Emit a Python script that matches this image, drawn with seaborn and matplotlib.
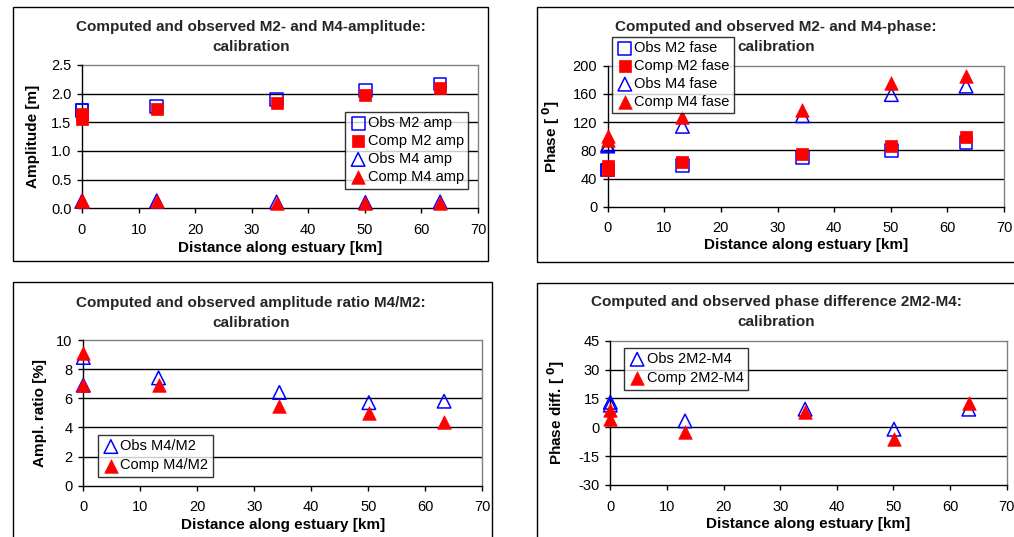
import numpy as np
import pandas as pd
import matplotlib
matplotlib.use("Agg")
import matplotlib.pyplot as plt
import seaborn as sns
from matplotlib.patches import Rectangle

sns.set_theme(style="white")
plt.rcParams['font.family'] = ['Liberation Sans', 'DejaVu Sans']

# ---------------- data ----------------
dist = [0, 0, 13.2, 34.4, 50.1, 63.3]

obs_m2_amp = [1.70, 1.70, 1.78, 1.90, 2.05, 2.17]
comp_m2_amp = [1.64, 1.55, 1.73, 1.83, 1.97, 2.10]
obs_m4_amp = [0.12, 0.12, 0.13, 0.11, 0.10, 0.11]
comp_m4_amp = [0.14, 0.12, 0.13, 0.10, 0.09, 0.09]

obs_m2_phase = [52, 52, 59, 70, 80, 91]
comp_m2_phase = [58, 52, 63, 75, 86, 99]
obs_m4_phase = [86, 88, 114, 129, 159, 171]
comp_m4_phase = [100, 95, 127, 137, 176, 185]

obs_ratio = [8.8, 6.9, 7.4, 6.4, 5.7, 5.8]
comp_ratio = [9.1, 6.9, 6.9, 5.5, 5.0, 4.4]

obs_pdiff = [13, 11.5, 3.3, 9.4, -1.0, 9.4]
comp_pdiff = [9, 4.3, -2.3, 7.8, -6.0, 12.8]

x_ticks = [0, 10, 20, 30, 40, 50, 60, 70]
amp_ticks = [0.0, 0.5, 1.0, 1.5, 2.0, 2.5]
phase_ticks = [0, 40, 80, 120, 160, 200]
ratio_ticks = [0, 2, 4, 6, 8, 10]
pdiff_ticks = [-30, -15, 0, 15, 30, 45]

title_lines = [("Computed and observed M2- and M4-amplitude:", "calibration"),
               ("Computed and observed M2- and M4-phase:", "calibration"),
               ("Computed and observed amplitude ratio M4/M2:", "calibration"),
               ("Computed and observed phase difference 2M2-M4:", "calibration")]
xlabel = "Distance along estuary [km]"

W, H = 1014, 537
fig = plt.figure(figsize=(W / 100, H / 100), dpi=100)
fig.patch.set_facecolor("white")

BLUE = "#0000FF"
RED = "#FF0000"
FS = 10.5
TFS = 11


def px_axes(l, r, t, b):
    return fig.add_axes([l / W, 1 - b / H, (r - l) / W, (b - t) / H])


def frame(l, t, r, b):
    fig.patches.append(Rectangle((l / W, 1 - b / H), (r - l) / W, (b - t) / H,
                                 transform=fig.transFigure, fill=False,
                                 edgecolor="black", linewidth=1.0))


def style(ax, yticks, yfmt, ylabel, ylab_x):
    ax.set_xlim(0, 70)
    ax.set_ylim(yticks[0], yticks[-1])
    ax.set_xticks(x_ticks)
    ax.set_yticks(yticks)
    ax.set_yticklabels([yfmt.format(v) for v in yticks])
    ax.tick_params(axis="both", which="major", direction="out", length=3.6,
                   width=1, color="black", labelsize=FS, labelcolor="black",
                   left=True, bottom=True)
    ax.tick_params(axis="x", pad=7)
    ax.tick_params(axis="y", pad=4)
    for v in yticks[1:-1]:
        ax.axhline(v, color="black", linewidth=1.0, zorder=1)
    for s in ["top", "right"]:
        ax.spines[s].set_color("#808080")
        ax.spines[s].set_linewidth(1.0)
    for s in ["left", "bottom"]:
        ax.spines[s].set_color("black")
        ax.spines[s].set_linewidth(1.0)
        ax.spines[s].set_zorder(3)
    ax.set_facecolor("white")
    ax.set_xlabel(xlabel, fontsize=TFS, fontweight="bold", color="black")
    ax.xaxis.set_label_coords(0.5, -0.225)
    ax.set_ylabel(ylabel, fontsize=TFS, fontweight="bold", color="black")
    ax.yaxis.set_label_coords(ylab_x, 0.5)


def pts(ax, y, marker, filled, label):
    df = pd.DataFrame({"x": dist, "y": y})
    size = 85 if marker == "s" else 95
    if filled:
        sns.scatterplot(data=df, x="x", y="y", ax=ax, marker=marker, s=size,
                        color=RED, edgecolor=RED, linewidth=0.5, label=label,
                        zorder=5, clip_on=False)
    else:
        sns.scatterplot(data=df, x="x", y="y", ax=ax, marker=marker, s=size,
                        facecolor="none", edgecolor=BLUE, linewidth=1.1,
                        label=label, zorder=4, clip_on=False)


def legend(ax, l, t, spacing):
    leg = ax.legend(loc="upper left", bbox_to_anchor=(l / W, 1 - t / H),
                    bbox_transform=fig.transFigure, frameon=True,
                    fancybox=False, edgecolor="black", fontsize=FS,
                    handletextpad=0.05, borderpad=0.3, labelspacing=spacing,
                    handlelength=1.2, borderaxespad=0)
    leg.get_frame().set_linewidth(1.0)
    for t_ in leg.get_texts():
        t_.set_color("black")


def title(x, y, lines):
    fig.text(x / W, 1 - y / H, lines[0], ha="center", va="center",
             fontsize=TFS, fontweight="bold")
    fig.text(x / W, 1 - (y + 20) / H, lines[1], ha="center", va="center",
             fontsize=TFS, fontweight="bold")


# ---- panel 1: amplitude ----
frame(12.7, 7.3, 488, 261)
ax1 = px_axes(82, 478, 65, 208.3)
pts(ax1, obs_m2_amp, "s", False, "Obs M2 amp")
pts(ax1, comp_m2_amp, "s", True, "Comp M2 amp")
pts(ax1, obs_m4_amp, "^", False, "Obs M4 amp")
pts(ax1, comp_m4_amp, "^", True, "Comp M4 amp")
style(ax1, amp_ticks, "{:.1f}", "Amplitude [m]", -0.106)
legend(ax1, 345, 111.7, 0.28)
title(251, 27, title_lines[0])

# ---- panel 2: phase ----
frame(536.7, 7, 1020, 261.7)
ax2 = px_axes(607.7, 1004, 65.7, 206.7)
pts(ax2, obs_m2_phase, "s", False, "Obs M2 fase")
pts(ax2, comp_m2_phase, "s", True, "Comp M2 fase")
pts(ax2, obs_m4_phase, "^", False, "Obs M4 fase")
pts(ax2, comp_m4_phase, "^", True, "Comp M4 fase")
style(ax2, phase_ticks, "{:d}", r"Phase [ $^\mathbf{0}$]", -0.115)
title(776, 27, title_lines[1])
legend(ax2, 611.7, 37, 0.26)

# ---- panel 3: ratio ----
frame(12.7, 282.3, 491.7, 545)
ax3 = px_axes(83.3, 482.3, 340, 485.7)
pts(ax3, obs_ratio, "^", False, "Obs M4/M2")
pts(ax3, comp_ratio, "^", True, "Comp M4/M2")
style(ax3, ratio_ticks, "{:d}", "Ampl. ratio [%]", -0.091)
legend(ax3, 97.7, 435, 0.35)
title(251, 303, title_lines[2])

# ---- panel 4: phase difference ----
frame(536.7, 282.7, 1020, 545)
ax4 = px_axes(610.3, 1006.7, 340.7, 485)
pts(ax4, obs_pdiff, "^", False, "Obs 2M2-M4")
pts(ax4, comp_pdiff, "^", True, "Comp 2M2-M4")
style(ax4, pdiff_ticks, "{:d}", r"Phase diff. [ $^\mathbf{0}$]", -0.109)
legend(ax4, 624, 347.7, 0.35)
title(776, 302, title_lines[3])

fig.savefig("out.png", dpi=100, facecolor="white")
